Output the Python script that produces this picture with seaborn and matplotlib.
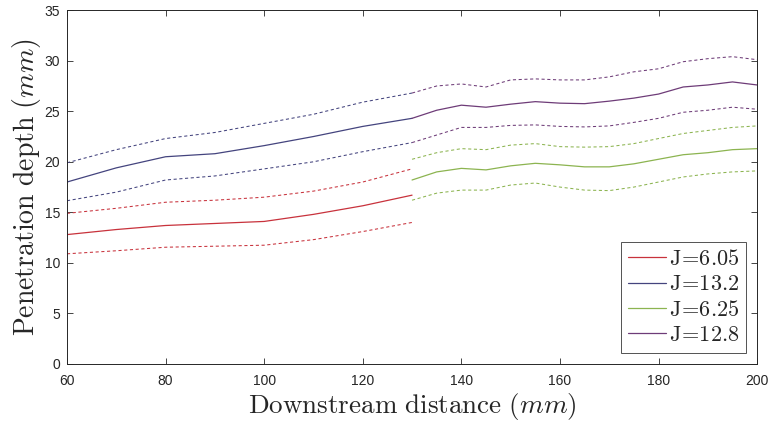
import pandas as pd
import matplotlib
matplotlib.use("Agg")
import matplotlib.pyplot as plt
import seaborn as sns

# downstream positions (mm)
x_near = [60, 70, 80, 90, 100, 110, 120, 130]
x_far = [130, 135, 140, 145, 150, 155, 160, 165, 170, 175, 180, 185, 190, 195, 200]

# J=6.05 (near field)
j605_mean = [12.8, 13.3, 13.7, 13.9, 14.1, 14.8, 15.65, 16.7]
j605_up = [14.9, 15.4, 16.0, 16.2, 16.5, 17.1, 18.0, 19.3]
j605_lo = [10.9, 11.2, 11.55, 11.65, 11.75, 12.3, 13.1, 14.0]
# J=13.2 (near field)
j132_mean = [18.0, 19.4, 20.5, 20.8, 21.6, 22.5, 23.5, 24.3]
j132_up = [19.9, 21.2, 22.3, 22.9, 23.8, 24.7, 25.9, 26.8]
j132_lo = [16.15, 17.0, 18.2, 18.6, 19.3, 20.0, 21.0, 21.9]
# J=6.25 (far field)
j625_mean = [18.2, 19.0, 19.35, 19.2, 19.6, 19.85, 19.7, 19.5, 19.5, 19.8, 20.25, 20.7, 20.9, 21.2, 21.3]
j625_up = [20.25, 20.9, 21.3, 21.2, 21.65, 21.8, 21.5, 21.45, 21.5, 21.8, 22.3, 22.8, 23.1, 23.4, 23.55]
j625_lo = [16.2, 16.9, 17.2, 17.2, 17.7, 17.9, 17.5, 17.2, 17.15, 17.5, 18.0, 18.5, 18.8, 19.0, 19.1]
# J=12.8 (far field)
j128_mean = [24.3, 25.1, 25.6, 25.4, 25.7, 25.95, 25.8, 25.75, 26.0, 26.3, 26.7, 27.4, 27.6, 27.9, 27.6]
j128_up = [26.8, 27.5, 27.7, 27.4, 28.1, 28.2, 28.1, 28.1, 28.4, 28.9, 29.2, 29.9, 30.2, 30.4, 30.1]
j128_lo = [21.9, 22.65, 23.4, 23.4, 23.6, 23.65, 23.5, 23.45, 23.55, 23.9, 24.3, 24.9, 25.1, 25.4, 25.2]

labels = ["J=6.05", "J=13.2", "J=6.25", "J=12.8"]
colors = ["#c8323c", "#44447e", "#8cb450", "#6e3c78"]

series = [
    (x_near, j605_mean, j605_up, j605_lo),
    (x_near, j132_mean, j132_up, j132_lo),
    (x_far, j625_mean, j625_up, j625_lo),
    (x_far, j128_mean, j128_up, j128_lo),
]

sns.set_style("ticks")
plt.rcParams["mathtext.fontset"] = "cm"
plt.rcParams["font.family"] = ["Liberation Sans", "DejaVu Sans"]

fig = plt.figure(figsize=(7.71, 4.23), dpi=100)
ax = fig.add_axes([0.0869, 0.1395, 0.8951, 0.8365])

for lab, col, (xs, m, up, lo) in zip(labels, colors, series):
    df = pd.DataFrame({"x": xs, "mean": m, "up": up, "lo": lo})
    sns.lineplot(data=df, x="x", y="mean", ax=ax, color=col, lw=0.9, label=lab)
    sns.lineplot(data=df, x="x", y="up", ax=ax, color=col, lw=0.75, ls=(0, (3, 2.5)))
    sns.lineplot(data=df, x="x", y="lo", ax=ax, color=col, lw=0.75, ls=(0, (3, 2.5)))

ax.set_xlim(60, 200)
ax.set_ylim(0, 35)
ax.set_xticks(range(60, 201, 20))
ax.set_yticks(range(0, 36, 5))
ax.tick_params(direction="in", top=True, right=True, labelsize=10, colors="#262626", length=4, width=0.6)
ax.tick_params(axis="x", pad=7)
ax.tick_params(axis="y", pad=5)
for s in ax.spines.values():
    s.set_visible(True)
    s.set_linewidth(0.7)
    s.set_color("#262626")

ax.set_xlabel(r"$\mathrm{Downstream\ distance}\ (mm)$", fontsize=19.5, labelpad=2.5)
ax.set_ylabel(r"$\mathrm{Penetration\ depth}\ (mm)$", fontsize=20, labelpad=1)

h, l = ax.get_legend_handles_labels()
leg = ax.legend(h, [r"$\mathrm{J\!=\!%s}$" % t.split("=")[1] for t in l], loc="lower right",
                fontsize=16, frameon=True, fancybox=False, edgecolor="#262626",
                handlelength=1.7, handletextpad=0.15, borderpad=0.3, labelspacing=0.2,
                borderaxespad=0.5)
leg.get_frame().set_linewidth(0.7)

fig.savefig("out.png", dpi=100)
